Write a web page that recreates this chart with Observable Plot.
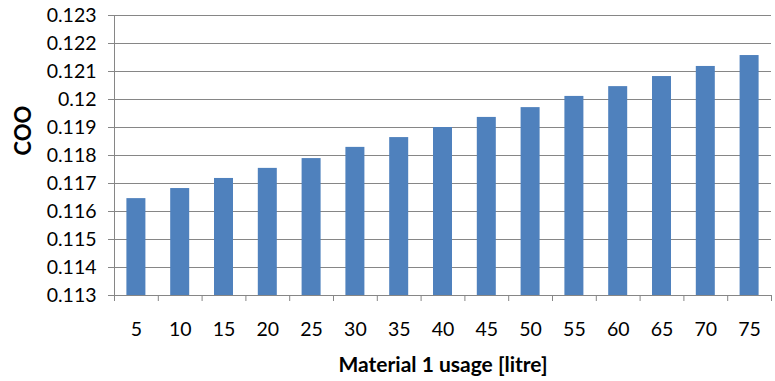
<!DOCTYPE html>
<html>
<head>
<meta charset="utf-8">
<script src="https://cdn.jsdelivr.net/npm/d3@7"></script>
<script src="https://cdn.jsdelivr.net/npm/@observablehq/plot@0.6"></script>
<style>
  body { margin: 0; background: #fff; }
</style>
</head>
<body>
<div id="chart"></div>
<script>
// Material 1 usage (litre) and the resulting COO
const usage = [5, 10, 15, 20, 25, 30, 35, 40, 45, 50, 55, 60, 65, 70, 75];
const coo = [0.11646, 0.11682, 0.11718, 0.11754, 0.11789, 0.11829, 0.11864, 0.11900,
             0.11936, 0.11971, 0.12011, 0.12046, 0.12082, 0.12118, 0.12157];
const yTicks = [0.113, 0.114, 0.115, 0.116, 0.117, 0.118, 0.119, 0.120, 0.121, 0.122, 0.123];
const xTitle = "Material 1 usage [litre]";
const yTitle = "COO";

const step = 5;                              // spacing between usage categories
const yMin = yTicks[0];                      // bars rise from the bottom of the value axis
const yMax = yTicks[yTicks.length - 1];

const data = usage.map((u, i) => ({usage: u, coo: coo[i]}));
// category boundaries, where the small tick marks sit under the axis
const edges = usage.map(u => u - step / 2).concat(usage[usage.length - 1] + step / 2);

const gray = "#868686";

const chart = Plot.plot({
  width: 775,
  height: 381,
  marginLeft: 114,
  marginRight: 4,
  marginTop: 15,
  marginBottom: 86,
  style: {fontFamily: "Lato, 'Open Sans', sans-serif", fontSize: "19.5px", color: "#000", background: "#fff"},
  x: {type: "linear", domain: [edges[0], edges[edges.length - 1]]},
  y: {domain: [yMin, yMax]},
  marks: [
    Plot.ruleY(yTicks, {stroke: gray, strokeWidth: 1}),
    Plot.rectY(data, {
      x1: d => d.usage - step / 2,
      x2: d => d.usage + step / 2,
      y1: yMin,
      y2: "coo",
      fill: "#4F81BD",
      insetLeft: 12.4,
      insetRight: 12.4
    }),
    Plot.ruleX([edges[0]], {y1: yMin, y2: yMax, stroke: gray}),
    Plot.axisY({ticks: yTicks, tickSize: 6, tickPadding: 12, stroke: gray, fill: "#000",
                tickFormat: d => String(+d.toFixed(3)), label: null}),
    Plot.axisX({ticks: edges, tickSize: 6, tickFormat: () => "", stroke: gray, label: null}),
    Plot.axisX({ticks: usage, tickSize: 0, tickPadding: 27, fill: "#000",
                tickFormat: d => String(d), label: null}),
    Plot.text([yTitle], {frameAnchor: "left", rotate: -90, dx: -91, fontWeight: "bold", fontSize: 22, fill: "#000"}),
    Plot.text([xTitle], {frameAnchor: "bottom", dy: 76, fontWeight: "bold", fontSize: 21, fill: "#000"})
  ]
});

document.getElementById("chart").appendChild(chart);
</script>
</body>
</html>
